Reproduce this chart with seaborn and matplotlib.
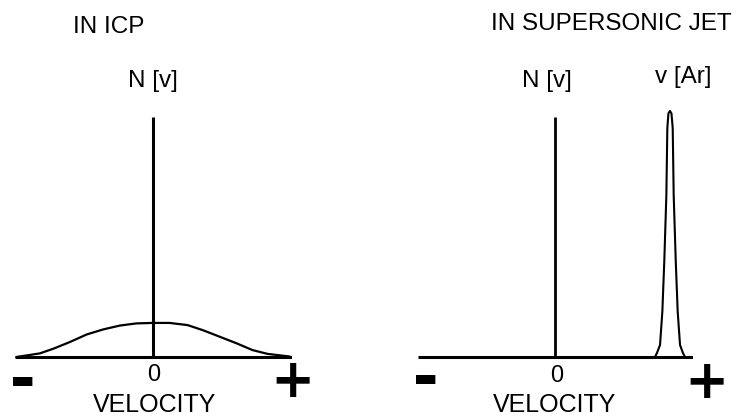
import matplotlib
matplotlib.use("Agg")
import matplotlib.pyplot as plt
import seaborn as sns

# Velocity distributions (velocity in arbitrary units, 0 = rest; N in units of the delta spike)
icp_velocity = [-0.99, -0.82, -0.72, -0.60, -0.48, -0.36, -0.24, -0.12, 0.0,
                0.12, 0.25, 0.36, 0.49, 0.61, 0.72, 0.83, 0.99]
icp_n = [0.0, 0.015, 0.035, 0.063, 0.094, 0.115, 0.131, 0.140, 0.142,
         0.142, 0.133, 0.112, 0.083, 0.056, 0.029, 0.013, 0.002]

spike_velocity = [0.0, 0.0]
spike_n = [0.0, 1.0]

jet_velocity = [0.724, 0.739, 0.761, 0.778, 0.792, 0.807, 0.814, 0.822, 0.833,
                0.844, 0.853, 0.860, 0.875, 0.889, 0.906, 0.927, 0.942]
jet_n = [0.0, 0.017, 0.05, 0.19, 0.40, 0.675, 0.954, 1.015, 1.025,
         1.015, 0.954, 0.675, 0.40, 0.19, 0.05, 0.017, 0.0]

panel_titles = ["IN ICP", "IN SUPERSONIC JET"]
axis_label = "VELOCITY"
spike_label = "N [v]"
peak_label = "v [Ar]"
zero_label = "0"

W, H = 737, 417
sns.set_theme(style="white")
plt.rcParams["font.family"] = ["Liberation Sans", "DejaVu Sans"]

fig = plt.figure(figsize=(W / 100, H / 100), dpi=100)
fig.patch.set_facecolor("white")

SCALE_X = 138.0   # pixels per velocity unit
SCALE_Y = 240.0   # pixels per N unit
BASE_Y = 357.0


def make_axes(left_px, right_px, zero_px):
    top_px, bottom_px = 100.0, 365.0
    ax = fig.add_axes([left_px / W, 1 - bottom_px / H,
                       (right_px - left_px) / W, (bottom_px - top_px) / H])
    ax.set_xlim((left_px - zero_px) / SCALE_X, (right_px - zero_px) / SCALE_X)
    ax.set_ylim(-(bottom_px - BASE_Y) / SCALE_Y, (BASE_Y - top_px) / SCALE_Y)
    ax.axis("off")
    ax.axhline(0, color="black", lw=2.2, solid_capstyle="butt")
    return ax


def px_text(x, y, s, **kw):
    fig.text(x / W, 1 - y / H, s, **kw)


line_kw = dict(color="black", estimator=None, sort=False, legend=False)

# Left panel: thermal distribution in the ICP
ax1 = make_axes(15, 292, 153)
sns.lineplot(x=icp_velocity, y=icp_n, ax=ax1, lw=1.6,
             solid_joinstyle="round", **line_kw)
sns.lineplot(x=spike_velocity, y=spike_n, ax=ax1, lw=2.2,
             solid_capstyle="butt", **line_kw)

# Right panel: narrowed, shifted distribution in the supersonic jet
ax2 = make_axes(418, 693, 555)
sns.lineplot(x=spike_velocity, y=spike_n, ax=ax2, lw=2.0,
             solid_capstyle="butt", **line_kw)
sns.lineplot(x=jet_velocity, y=jet_n, ax=ax2, lw=1.5,
             solid_joinstyle="round", **line_kw)

txt = dict(ha="center", va="baseline", color="black", fontsize=17.5)
px_text(109, 33, panel_titles[0], **txt)
px_text(611, 30, panel_titles[1], **txt)
px_text(153, 87, spike_label, **txt)
px_text(547, 87, spike_label, **txt)
px_text(683, 83, peak_label, **txt)
px_text(154, 381, zero_label, **{**txt, "fontsize": 17})
px_text(557, 382, zero_label, **{**txt, "fontsize": 17})

label = dict(ha="center", va="bottom", color="black", fontsize=18)
px_text(155, 416.5, axis_label, **label)
px_text(555, 416.5, axis_label, **label)

minus = dict(ha="center", va="baseline", color="black", fontweight="bold",
             fontsize=55)
px_text(23, 401, "-", **minus)
px_text(426, 399, "-", **minus)

plus = dict(ha="center", va="center", color="black", fontsize=38)
px_text(290, 383, r"$\mathbf{+}$", **plus)
px_text(704, 384, r"$\mathbf{+}$", **plus)

fig.savefig("out.png", dpi=100, facecolor="white")
